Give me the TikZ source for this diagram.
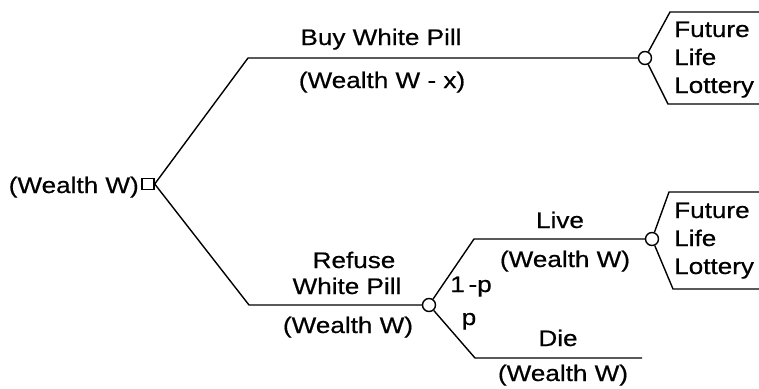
\documentclass[tikz,border=0pt]{standalone}
\usepackage{fontspec}
\setmainfont[FakeStretch=1.16,FakeBold=0.6]{Liberation Sans}
\begin{document}
\begin{tikzpicture}[x=1pt,y=-1pt,
  branch/.style={line width=1.4pt, line join=miter},
  chance/.style={circle, draw, line width=1.4pt, fill=white, minimum size=13pt, inner sep=0pt},
  decision/.style={rectangle, draw, line width=1.4pt, fill=white, minimum width=12pt, minimum height=11pt, inner sep=0pt},
  lbl/.style={font=\fontsize{22.5}{28}\selectfont, inner sep=0pt, anchor=base}]
\useasboundingbox (0,0) rectangle (759,388);

% decision and chance nodes
\node[decision] (d)  at (148,184) {};
\node[chance]   (c1) at (645,58)  {};
\node[chance]   (c2) at (429,305) {};
\node[chance]   (c3) at (652,239) {};

% corners and free ends of the branches
\coordinate (buyK)  at (248,58);
\coordinate (refK)  at (249,305);
\coordinate (liveK) at (474,239);
\coordinate (dieK)  at (475,358);
\coordinate (dieE)  at (642,358);
\coordinate (l1a)   at (670,12);
\coordinate (l1aE)  at (759,12);
\coordinate (l1b)   at (668,104);
\coordinate (l1bE)  at (759,104);
\coordinate (l2a)   at (669,192);
\coordinate (l2aE)  at (759,192);
\coordinate (l2b)   at (673,289);
\coordinate (l2bE)  at (759,289);

% branches
\draw[branch] (d.east) -- (buyK) -- (c1);
\draw[branch] (d.east) -- (refK) -- (c2);
\draw[branch] (c2) -- (liveK) -- (c3);
\draw[branch] (c2) -- (dieK) -- (dieE);
\draw[branch] (c1) -- (l1a) -- (l1aE);
\draw[branch] (c1) -- (l1b) -- (l1bE);
\draw[branch] (c3) -- (l2a) -- (l2aE);
\draw[branch] (c3) -- (l2b) -- (l2bE);

% labels
\node[lbl, anchor=base east] (w0) at (139,193) {(Wealth W)};
\node[lbl] (buy)  at (381,45)  {Buy White Pill};
\node[lbl] (wx)   at (382,88)  {(Wealth W - x)};
\node[lbl] (ref1) at (354,268) {Refuse};
\node[lbl] (ref2) at (347,294) {White Pill};
\node[lbl] (w1)   at (348,333) {(Wealth W)};
\node[lbl] (p1)   at (471,292) {1\,-p};
\node[lbl] (p2)   at (469,325) {p};
\node[lbl] (live) at (560,228) {Live};
\node[lbl] (w2)   at (565,267) {(Wealth W)};
\node[lbl] (die)  at (558,346) {Die};
\node[lbl] (w3)   at (563,381) {(Wealth W)};
\node[lbl, anchor=base west] (f1) at (674,37)  {Future};
\node[lbl, anchor=base west] (f2) at (674,65)  {Life};
\node[lbl, anchor=base west] (f3) at (674,93)  {Lottery};
\node[lbl, anchor=base west] (g1) at (674,218) {Future};
\node[lbl, anchor=base west] (g2) at (674,246) {Life};
\node[lbl, anchor=base west] (g3) at (674,274) {Lottery};
\end{tikzpicture}
\end{document}
